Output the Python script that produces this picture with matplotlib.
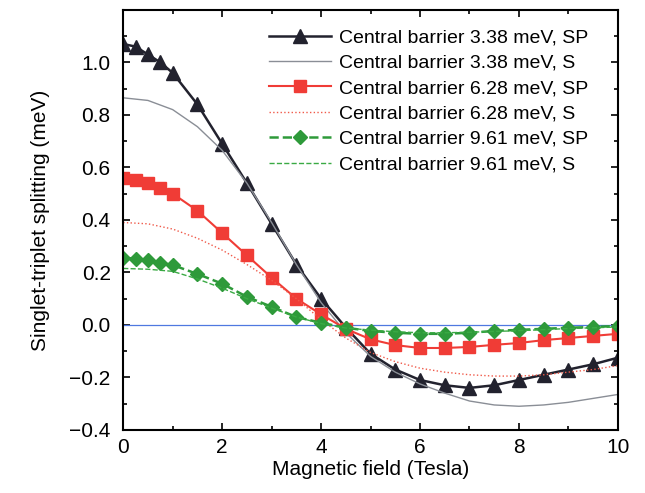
import numpy as np
import matplotlib
matplotlib.use('Agg')
import matplotlib.pyplot as plt
from matplotlib.ticker import MultipleLocator

plt.rcParams['font.family'] = ['Liberation Sans', 'DejaVu Sans']

# field values (Tesla) for the SP curves (symbols)
b_sp = [0, 0.25, 0.5, 0.75, 1.0, 1.5, 2.0, 2.5, 3.0, 3.5, 4.0, 4.5, 5.0,
        5.5, 6.0, 6.5, 7.0, 7.5, 8.0, 8.5, 9.0, 9.5, 10.0]
sp_338 = [1.07, 1.06, 1.03, 1.00, 0.96, 0.84, 0.69, 0.54, 0.385, 0.23, 0.10, -0.01,
          -0.11, -0.17, -0.21, -0.23, -0.24, -0.23, -0.21, -0.19, -0.17, -0.15, -0.125]
sp_628 = [0.56, 0.55, 0.54, 0.52, 0.50, 0.435, 0.35, 0.265, 0.18, 0.10, 0.04, -0.015,
          -0.055, -0.077, -0.088, -0.088, -0.084, -0.076, -0.069, -0.058, -0.05, -0.042, -0.034]
sp_961 = [0.256, 0.252, 0.248, 0.237, 0.228, 0.194, 0.157, 0.107, 0.069, 0.03, 0.008, -0.011,
          -0.023, -0.03, -0.034, -0.034, -0.03, -0.023, -0.019, -0.015, -0.011, -0.008, -0.004]

# field values for the S curves (lines)
b_s = [0, 0.5, 1.0, 1.5, 2.0, 2.5, 3.0, 3.5, 4.0, 4.5, 5.0,
       5.5, 6.0, 6.5, 7.0, 7.5, 8.0, 8.5, 9.0, 9.5, 10.0]
s_338 = [0.865, 0.855, 0.82, 0.755, 0.665, 0.54, 0.39, 0.23, 0.085, -0.03, -0.12,
         -0.18, -0.225, -0.26, -0.29, -0.305, -0.31, -0.305, -0.295, -0.28, -0.265]
s_628 = [0.39, 0.385, 0.365, 0.33, 0.285, 0.23, 0.17, 0.10, 0.02, -0.05, -0.105,
         -0.14, -0.165, -0.18, -0.19, -0.195, -0.195, -0.19, -0.18, -0.17, -0.155]
s_961 = [0.215, 0.212, 0.204, 0.175, 0.14, 0.10, 0.064, 0.03, 0.005, -0.012, -0.02,
         -0.026, -0.03, -0.03, -0.028, -0.025, -0.022, -0.018, -0.014, -0.011, -0.008]

fig = plt.figure(figsize=(6.45, 4.93), dpi=100)
ax = fig.add_axes([0.191, 0.128, 0.767, 0.852])

ax.plot([0, 10], [0, 0], color='#4f78e0', lw=0.9)

ax.plot(b_sp, sp_338, '-', marker='^', color='#22222e', lw=1.8, ms=9.5,
        label='Central barrier 3.38 meV, SP')
ax.plot(b_s, s_338, '-', color='#8a8e96', lw=1.0,
        label='Central barrier 3.38 meV, S')
ax.plot(b_sp, sp_628, '-', marker='s', color='#f03c36', lw=1.5, ms=8,
        label='Central barrier 6.28 meV, SP')
ax.plot(b_s, s_628, ':', color='#f05a4a', lw=1.0,
        label='Central barrier 6.28 meV, S')
ax.plot(b_sp, sp_961, '--', marker='D', color='#2e9a3a', lw=1.8, ms=7.5,
        label='Central barrier 9.61 meV, SP')
ax.plot(b_s, s_961, '--', color='#3aaa44', lw=1.0,
        label='Central barrier 9.61 meV, S')

ax.set_xlim(0, 10)
ax.set_ylim(-0.4, 1.2)
ax.xaxis.set_major_locator(MultipleLocator(2))
ax.xaxis.set_minor_locator(MultipleLocator(1))
ax.yaxis.set_major_locator(MultipleLocator(0.2))
ax.yaxis.set_minor_locator(MultipleLocator(0.1))
ax.tick_params(which='both', direction='in', top=True, right=True, labelsize=15, width=1.2)
ax.tick_params(which='major', length=5)
ax.tick_params(which='minor', length=3)
ax.tick_params(axis='y', pad=9)
ax.tick_params(axis='x', pad=6)
ax.set_yticks([-0.4, -0.2, 0.0, 0.2, 0.4, 0.6, 0.8, 1.0])
ax.set_yticklabels(['\u22120.4', '\u22120.2', '0.0', '0.2', '0.4', '0.6', '0.8', '1.0'])
for s in ax.spines.values():
    s.set_linewidth(1.5)

ax.set_xlabel('Magnetic field (Tesla)', fontsize=15, labelpad=2)
ax.set_ylabel('Singlet-triplet splitting (meV)', fontsize=15, labelpad=14)

ax.legend(loc='upper right', bbox_to_anchor=(0.94, 0.955), frameon=False, fontsize=14,
          handlelength=3.2, labelspacing=0.4, handletextpad=0.4, borderaxespad=0,
          borderpad=0)

fig.savefig('out.png', dpi=100)
